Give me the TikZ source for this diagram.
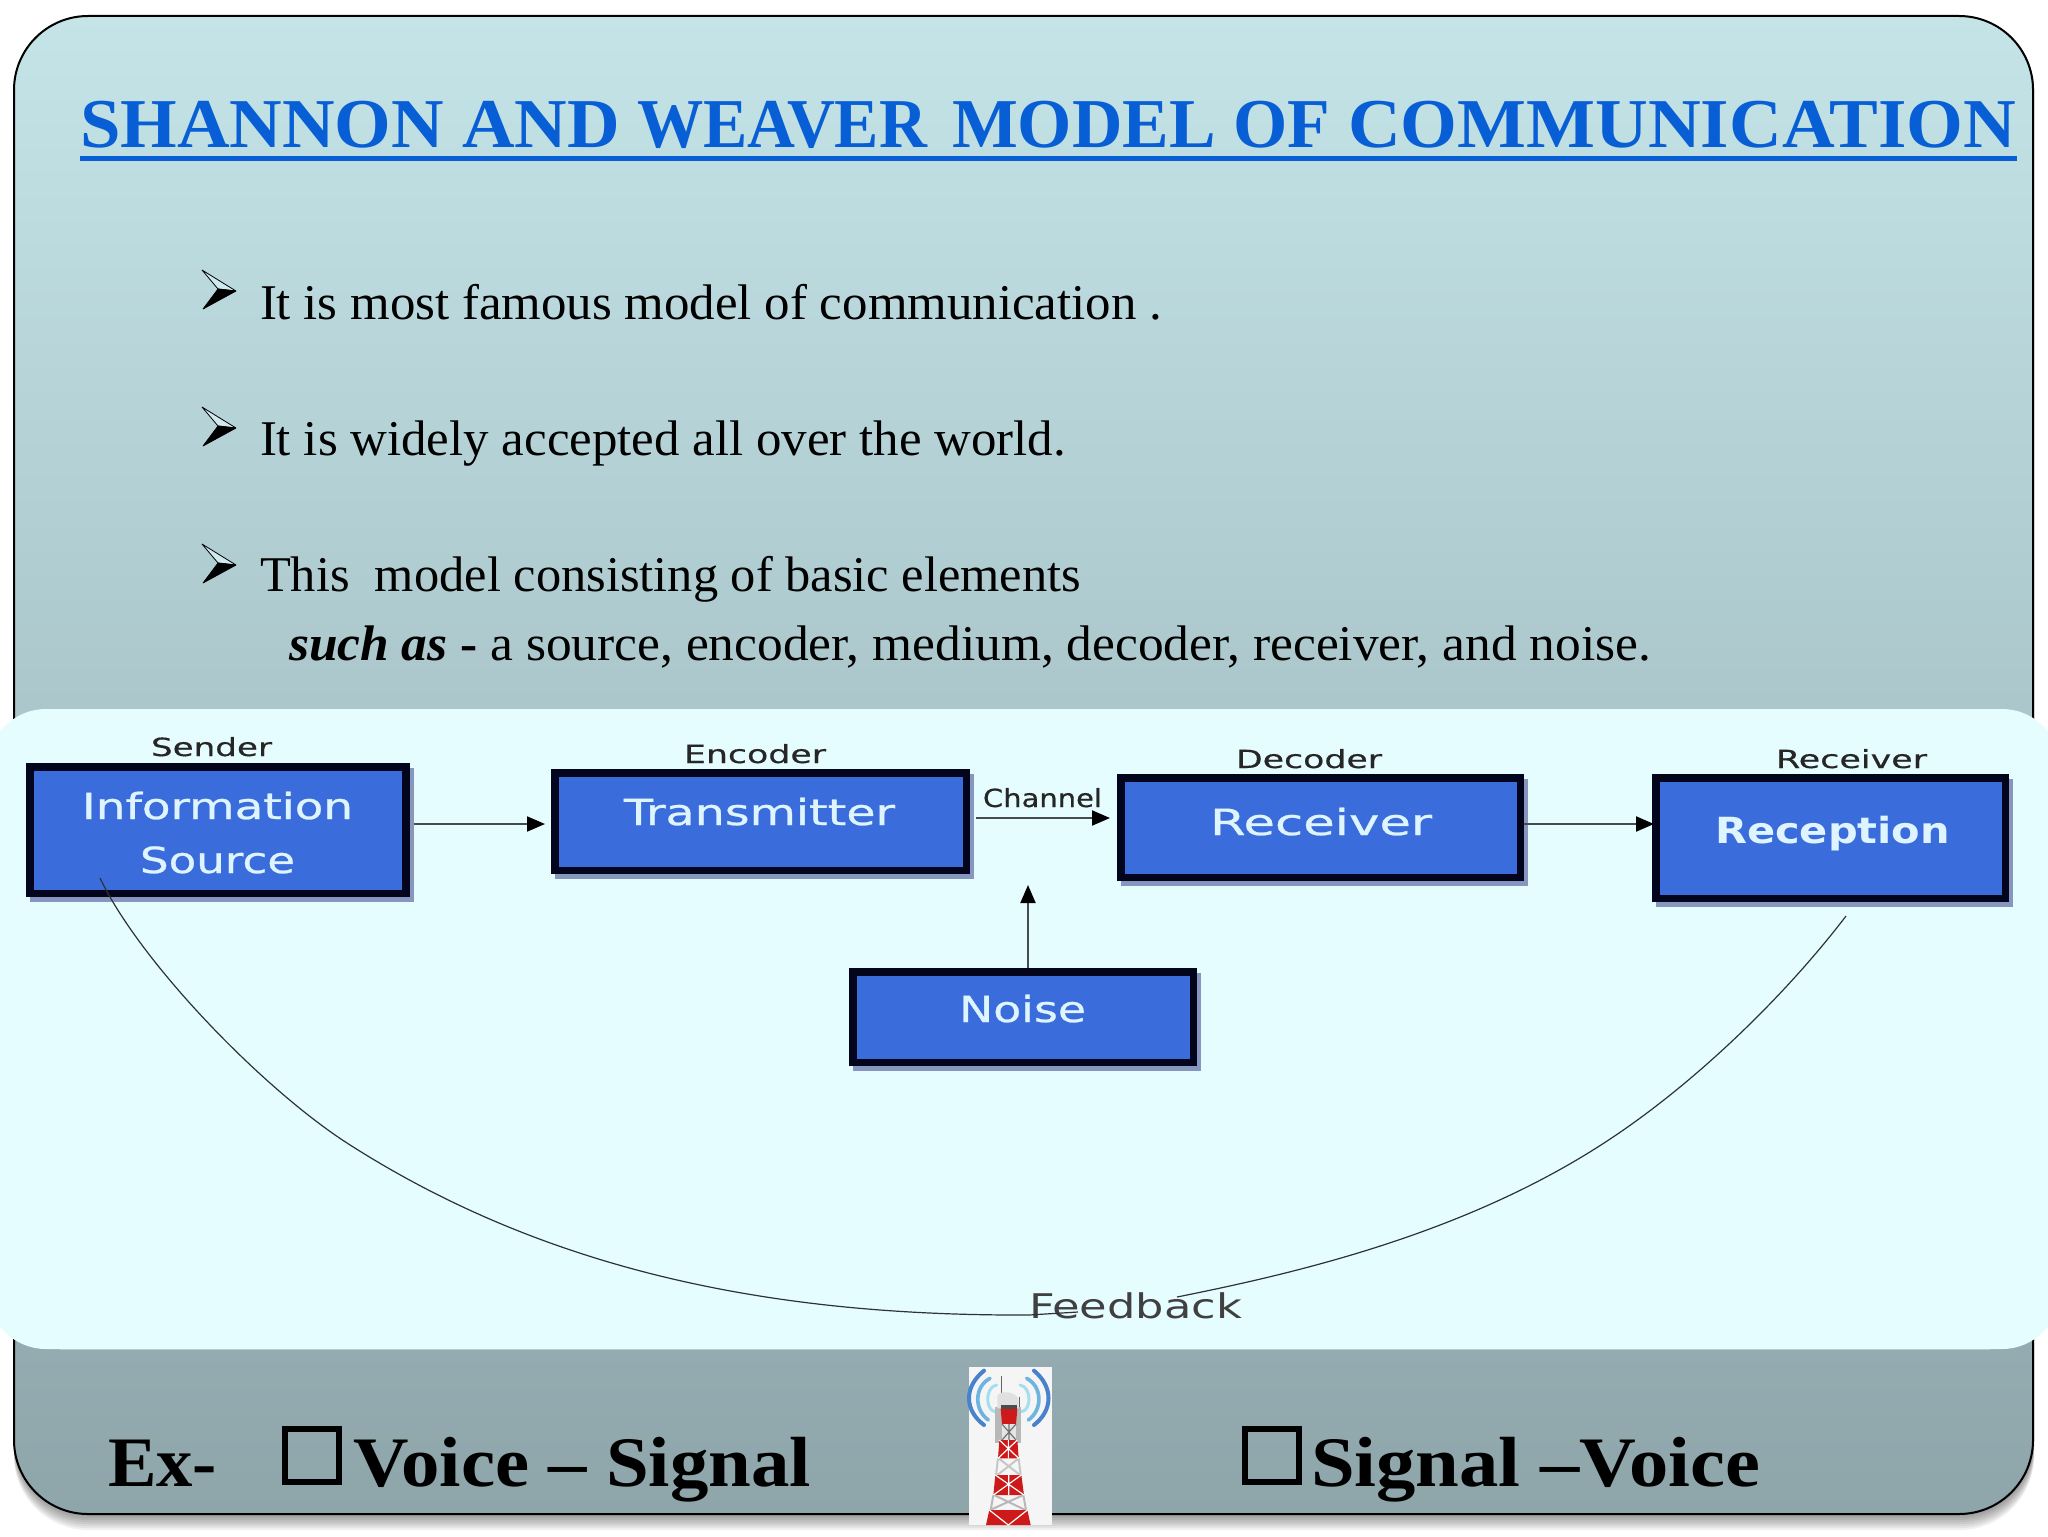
\documentclass[tikz,border=0pt]{standalone}
\usepackage{fontspec}
\usepackage{graphicx}
\setmainfont{Liberation Serif}
\newfontfamily\boxfont[FakeBold=0.7]{DejaVu Sans}
\newfontfamily\labelfont[FakeBold=0.4]{DejaVu Sans}
\newfontfamily\fbfont{DejaVu Sans}
\usetikzlibrary{arrows.meta,shadows}
\newcommand\fitw[2]{\resizebox{\dimexpr#1pt/2\relax}{\height}{#2}}
\definecolor{slidetop}{RGB}{196,228,232}
\definecolor{slidebot}{RGB}{142,165,170}
\definecolor{panelc}{RGB}{230,253,255}
\definecolor{titleblue}{RGB}{8,94,213}
\definecolor{boxblue}{RGB}{59,108,220}
\definecolor{boxline}{RGB}{3,5,28}
\definecolor{boxtext}{RGB}{222,245,255}
\definecolor{boxshadow}{RGB}{135,150,190}
\definecolor{wirec}{RGB}{70,75,80}
\definecolor{feedc}{RGB}{45,50,55}
\definecolor{arcA}{RGB}{72,130,205}
\definecolor{arcB}{RGB}{110,180,225}
\definecolor{arcC}{RGB}{165,222,238}
\definecolor{towerred}{RGB}{205,25,25}
\tikzset{
  txt/.style={anchor=base west,inner sep=0pt,outer sep=0pt},
  titletxt/.style={txt,text=titleblue,font=\fontsize{35}{35}\selectfont\bfseries},
  bodytxt/.style={txt,text=black,font=\fontsize{25}{25}\selectfont},
  bigtxt/.style={txt,text=black,font=\fontsize{35.5}{36}\selectfont\bfseries},
  boxtxt/.style={txt,text=boxtext,font=\fontsize{18}{18}\selectfont\boxfont},
  toplabel/.style={txt,text=black!85,font=\fontsize{12.5}{13}\selectfont\labelfont},
  blockbox/.style={draw=boxline,fill=boxblue,line width=3.75pt,inner sep=0pt,
    general shadow={shadow xshift=2pt,shadow yshift=-2.5pt,fill=boxshadow,draw=boxshadow,line width=3.75pt}},
  flow/.style={draw=wirec,line width=1pt,-{Triangle[length=9pt,width=7.5pt,color=black]}},
  feed/.style={draw=feedc,line width=0.6pt},
  checkbox/.style={draw=black,line width=2.8pt,fill=none,inner sep=0pt,minimum width=27pt,minimum height=26.5pt},
}
\newcommand\bulletmark[1]{%
  \begin{scope}[shift={(202,#1)},line join=bevel]
    \fill[slidetop!80!white,draw=black,line width=0.4pt] (0,0)--(34,21)--(16,19)--cycle;
    \fill[black,draw=black,line width=0.4pt] (16,19)--(34,21)--(1,39)--cycle;
  \end{scope}}
\begin{document}
\begin{tikzpicture}[x=0.5pt,y=-0.5pt]
\path[use as bounding box,clip] (0,0) rectangle (2048,1536);
\fill[white] (0,0) rectangle (2048,1536);
% slide shadow
\foreach \i in {1,3,...,15}{
  \fill[black,opacity=0.055,rounded corners=37pt] (14,16) rectangle (2034,1515+\i);
}
% slide
\draw[black,line width=1pt,top color=slidetop,bottom color=slidebot,rounded corners=37pt] (14,16) rectangle (2033,1514);
% diagram panel
\fill[panelc,rounded corners=29pt] (-12,709) rectangle (2060,1349);
\draw[slidebot!55!panelc,line width=0.5pt] (60,1349)--(1990,1349);
% title
\node[titletxt] (title) at (80,148) {\fitw{540}{SHANNON AND}\kern8.5pt\fitw{290}{WEAVER}\kern12.5pt\fitw{378}{MODEL OF}\kern9pt\fitw{668}{COMMUNICATION}};
\fill[titleblue] (80,156) rectangle (2017,161);
% bullets
\bulletmark{270}\bulletmark{407}\bulletmark{544}
\node[bodytxt] (b1) at (260,319) {\fitw{902}{It is most famous model of communication .}};
\node[bodytxt] (b2) at (260,455) {\fitw{806}{It is widely accepted all over the world.}};
\node[bodytxt] (b3) at (260,591) {\fitw{821}{This\ \ model consisting of basic elements}};
\node[bodytxt] (b4) at (289,660) {\fitw{1362}{{\bfseries\itshape such as} {\bfseries -} a source, encoder, medium, decoder, receiver, and noise.}};
% boxes
\node[blockbox,minimum width=188pt,minimum height=63.25pt] (src) at (218,830) {};
\node[blockbox,minimum width=205.75pt,minimum height=48.75pt] (tx) at (760.5,821.5) {};
\node[blockbox,minimum width=199.75pt,minimum height=49.75pt] (rx) at (1320.5,827.5) {};
\node[blockbox,minimum width=174.75pt,minimum height=60.25pt] (rec) at (1830.5,838) {};
\node[blockbox,minimum width=170.25pt,minimum height=45.25pt] (noise) at (1023,1017) {};
% box texts
\node[boxtxt] (t1) at (82,819) {\fitw{271}{Information}};
\node[boxtxt] (t2) at (140,873) {\fitw{155}{Source}};
\node[boxtxt] (t3) at (624,825) {\fitw{271}{Transmitter}};
\node[boxtxt] (t4) at (1210,835) {\fitw{222}{Receiver}};
\node[boxtxt,font=\fontsize{18}{18}\selectfont\fbfont\bfseries] (t5) at (1715,843) {\fitw{235}{Reception}};
\node[boxtxt] (t6) at (959,1022) {\fitw{127}{Noise}};
% top labels
\node[toplabel] (l1) at (151,756) {\fitw{121}{Sender}};
\node[toplabel] (l2) at (684,763) {\fitw{142}{Encoder}};
\node[toplabel] (l3) at (1236,768) {\fitw{146}{Decoder}};
\node[toplabel] (l4) at (1776,768) {\fitw{151}{Receiver}};
\node[toplabel] (l5) at (983,807) {\fitw{119}{Channel}};
\node[toplabel,text=black!75,font=\fontsize{17}{17}\selectfont\fbfont] (fb) at (1029,1318) {\fitw{213}{Feedback}};
% arrows
\coordinate (noisetip) at (1028,885);
\draw[flow,shorten <=2pt,shorten >=3pt] ([yshift=3pt]src.east) -- ([yshift=-1.25pt]tx.west);
\draw[flow,shorten <=3pt,shorten >=3.5pt] ([yshift=1.75pt]tx.east) -- ([yshift=4.75pt]rx.west);
\draw[flow,shorten >=-1pt] ([yshift=1.75pt]rx.east) -- ([yshift=7pt]rec.west);
\draw[flow] ([xshift=2.5pt]noise.north) -- (noisetip);
% feedback curves
\coordinate (fa) at (100,878);
\coordinate (fam) at (347,1143);
\coordinate (fb0) at (1029,1315);
\coordinate (fb1) at (1078,1312);
\coordinate (fc) at (1846,916);
\coordinate (fcm) at (1604,1143);
\coordinate (fd) at (1177,1297);
\draw[feed] (fa) .. controls (140,962) and (262,1088) .. (fam) .. controls (557,1278) and (790,1316) .. (fb0) -- (fb1);
\draw[feed] (fc) .. controls (1781,1001) and (1689,1088) .. (fcm) .. controls (1464,1234) and (1297,1273) .. (fd);
% bottom row
\node[bigtxt] (ex) at (108,1486) {\fitw{109}{Ex-}};
\node[checkbox] (c1) at (312,1455.5) {};
\node[bigtxt] (v1) at (353,1486) {\fitw{458}{Voice – Signal}};
\node[checkbox] (c2) at (1272,1455.5) {};
\node[bigtxt] (v2) at (1311,1486) {\fitw{449}{Signal –Voice}};
% tower
\begin{scope}[shift={(960,1360)},x=0.16667pt,y=-0.16667pt]
  \fill[white!96!black] (28,22) rectangle (275,495);
  \foreach \c/\lw/\ax/\ay/\bx/\by/\cax/\cbx in {
    arcA/12/72/32/72/195/12/12,
    arcB/11/90/55/85/180/42/42,
    arcC/9/110/75/105/155/75/75,
    arcA/12/222/32/222/195/280/280,
    arcB/11/200/55/205/180/248/248,
    arcC/9/180/75/185/155/215/215}{
    \draw[line width=\lw*0.1667pt,\c,line cap=round] (\ax,\ay) .. controls (\cax,80) and (\cbx,150) .. (\bx,\by);
  }
  \draw[black!60,line width=0.6pt] (125,48)--(125,115) (178,110)--(178,150);
  \fill[black!28] (106,140) rectangle (184,248);
  \fill[black!12] (112,110) .. controls (112,90) and (176,90) .. (176,125) -- (176,145) -- (112,145) -- cycle;
  \fill[black!70] (122,135) rectangle (172,147);
  \fill[towerred] (122,147) -- (172,147) -- (168,192) -- (126,192) -- cycle;
  \fill[white!90!black] (126,192) rectangle (168,240);
  \draw[black!55,line width=0.6pt] (126,192) -- (168,240) (168,192) -- (126,240) (147,192) -- (147,240);
  \fill[towerred] (118,240) -- (172,240) -- (176,295) -- (114,295) -- cycle;
  \draw[white!78!black,line width=1pt] (116,295) -- (180,345) (176,295) -- (112,345) (114,295) -- (108,345) (176,295) -- (182,345);
  \fill[towerred] (106,345) -- (184,345) -- (192,405) -- (100,405) -- cycle;
  \draw[white!72!black,line width=1pt] (102,405) -- (196,450) (190,405) -- (90,450) (100,405) -- (92,450) (190,405) -- (198,450);
  \fill[towerred] (88,450) -- (202,450) -- (212,495) -- (78,495) -- cycle;
  \draw[white,line width=0.6pt] (118,240)--(176,295) (172,240)--(114,295) (106,345)--(192,405) (184,345)--(100,405) (88,450)--(145,495)--(202,450) (145,240)--(145,295) (146,345)--(146,405);
\end{scope}
\end{tikzpicture}
\end{document}
